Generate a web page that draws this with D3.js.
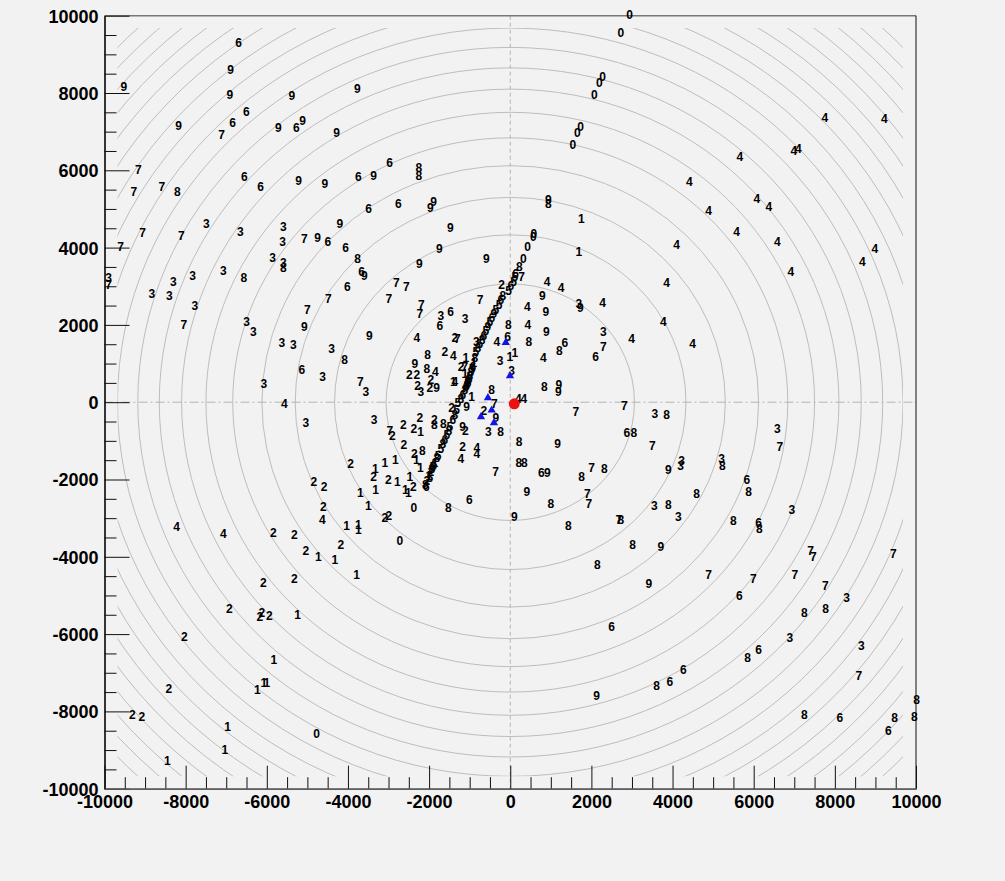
<!DOCTYPE html>
<html>
<head>
<meta charset="utf-8">
<script src="https://cdn.jsdelivr.net/npm/d3@7"></script>
<style>
  html, body { margin: 0; padding: 0; background: #f2f2f2; }
  svg { display: block; }
  .tick text { font-family: "Liberation Sans", Arial, sans-serif; font-weight: bold; }
</style>
</head>
<body>
<svg id="chart" width="1005" height="881"></svg>
<script>
// ---- axis ranges and ticks ----
const xDomain = [-10000, 10000];
const yDomain = [-10000, 10000];
const majorTicks = [-10000, -8000, -6000, -4000, -2000, 0, 2000, 4000, 6000, 8000, 10000];
const minorTicks = [-9500, -9000, -8500, -7500, -7000, -6500, -5500, -5000, -4500, -3500, -3000, -2500,
  -1500, -1000, -500, 500, 1000, 1500, 2500, 3000, 3500, 4500, 5000, 5500, 6500, 7000, 7500, 8500, 9000, 9500];

// ---- reference rings (radius of each contour) and the window they are drawn in ----
const ringRadii = [3060, 4330, 5300, 6120, 6840, 7500, 8100, 8650, 9180, 9680,
  10150, 10600, 11030, 11450, 11850, 12240, 12620, 12980, 13340, 13690];
const ringWindow = [-9680, 9680];

// ---- labelled hits, grouped by the digit printed at each one: [x, y] ----
const pts0 = [[2943,10031],[2728,9565],[2277,8435],[2193,8279],[2070,7961],[1735,7125],[1651,6970],[1545,6660],
  [584,4357],[567,4295],[429,4021],[320,3726],[-2373,-2732],[-2718,-3578],[-4771,-8572]];

const pts1 = [[1750,4745],[1693,3907],[-7,1190],[116,1278],[-1092,1144],[-1116,750],[-1400,523],[-951,155],
  [-2208,-758],[-2317,-1483],[-2213,-1684],[-3088,-1560],[-2834,-1475],[-3322,-1708],[-2780,-2065],[-2472,-1922],
  [-2588,-2251],[-2514,-2336],[-3317,-2259],[-3692,-2336],[-3500,-2680],[-4032,-3190],[-3746,-3164],[-3746,-3294],
  [-4732,-4000],[-4320,-4070],[-3786,-4458],[-5240,-5493],[-5824,-6657],[-6235,-7433],[-6070,-7260],[-5996,-7244],
  [-6965,-8383],[-7031,-8993],[-8454,-9263],
  [-2004,-1896],[-1856,-1560],[-895,1027]];

const pts2 = [[-212,3045],[-1363,1674],[-1609,1320],[-1210,916],[-2484,704],[-2300,704],[-2282,432],[-1954,587],
  [-1979,373],[-648,-207],[-2226,-396],[-1873,-448],[-1444,-145],[-2637,-577],[-2373,-675],[-2908,-875],
  [-1109,-732],[-2620,-1094],[-2361,-1327],[-1173,-1138],[-3934,-1591],[-3369,-1935],[-3007,-2000],[-2391,-2181],
  [-3088,-2991],[-2990,-2931],[-4173,-3682],[-4838,-2044],[-4591,-2173],[-4609,-2706],[-5841,-3379],[-5324,-3423],
  [-5035,-3829],[-6088,-4657],[-5324,-4569],[-6925,-5345],[-6169,-5537],[-6120,-5441],[-5940,-5519],[-8035,-6070],
  [-8412,-7407],[-9316,-8088],[-9077,-8140],
  [-2053,-2026],[-1954,-1793]];

const pts3 = [[-1708,2235],[-1112,2160],[-838,1558],[-249,1087],[35,828],[-3556,285],[-2201,285],[-3354,-440],
  [-542,-750],[2292,1837],[1690,2560],[3566,-292],[4224,-1501],[4200,-1630],[5210,-1464],[3549,-2673],[4141,-2950],
  [6580,-680],[6943,-2776],[8291,-5053],[6893,-6096],[8651,-6295],
  [-4402,1382],[-5627,1537],[-5348,1493],[-6497,2096],[-6334,1837],[-7771,2502],[-4624,657],[-6070,476],[-5035,-517],
  [-8831,2805],[-8404,2761],[-8306,3131],[-7828,3278],[-7073,3415],[-9898,3219],[-5856,3736],[-5595,3607],
  [-7492,4616],[-6654,4409],[-5595,4554],[-5609,4166]];

const pts4 = [[905,3123],[1250,2960],[424,2476],[436,1997],[-328,1578],[813,1149],[-1405,1201],[-1844,794],
  [-2304,1669],[-1363,523],[197,88],[338,88],[-1215,-1472],[-821,-1180],[-821,-1327],[-5570,-41],[-4633,-3035],
  [-8222,-3224],[-7073,-3397],
  [2277,2587],[2992,1640],[3771,2096],[3855,3089],[4495,1519],[4101,4080],[4412,5710],[4890,4968],[5580,4424],
  [5661,6349],[6080,5263],[6376,5056],[6580,4150],[6918,3374],[6992,6520],[7098,6556],[7756,7374],[9218,7332],
  [8675,3633],[8988,3969]];

const pts5 = [[116,3252],[-39,2877],[84,3131],[-1289,-16],[-1321,-189],[-1486,-634],
  [-1905,-1664],[-1708,-1198],[-1560,-836],[-845,1312],[-747,1519],[-599,1855],[-500,2088],[-352,2398],[-278,2528],
  [-1980,-1950],[-1780,-1380],[-1040,510],[-940,870]];

const pts6 = [[-6694,9299],[-6507,7521],[-6842,7244],[-5274,7100],[-6556,5832],[-6152,5589],[-4493,4166],
  [-2972,6194],[-3746,5847],[-3490,5012],[-2760,5149],[-4057,3995],[-3662,3389],[-4017,2986],[-1469,2334],
  [-1733,1977],[-64,1692],[1348,1537],[2105,1190],[-5134,846],[-1010,-2517],[133,3322],[2876,-792],[764,-1827],
  [5834,-2000],[6122,-3120],[5644,-5001],[2499,-5796],[3936,-7226],[4264,-6916],[6122,-6398],[8126,-8166],[9316,-8494],
  [-1609,-965],[-1412,-448],[-1166,199],[-1043,561],[-919,924],[-648,1726],[-451,2191],[-229,2657],[17,3019],
  [-2070,-2180],[-1880,-1610],[-1090,400]];

const pts7 = [[-7113,6918],[-9168,6021],[-9274,5459],[-8584,5573],[-9060,4398],[-8109,4313],[-9602,4036],
  [-9898,3045],[-5077,4228],[-8042,2010],[-5003,2398],[-4486,2675],[-2990,2683],[-2810,3105],[-2558,2981],
  [-2189,2528],[-2226,2287],[-742,2652],[281,3252],[-1306,1640],[-1116,911],[-3694,543],[-394,-41],[-2965,-732],
  [-360,-1785],[1619,-248],[2810,-85],[3500,-1113],[2006,-1697],[1898,-2362],[1940,-2621],[2679,-3035],[2292,1449],
  [6647,-1138],[7404,-3829],[7468,-4000],[9439,-3922],[4890,-4458],[5989,-4554],[7017,-4458],[7763,-4735],[8594,-7071]];

const pts8 = [[-8207,5459],[-6563,3219],[-5595,3477],[-2250,6065],[-2250,5865],[-3761,3710],[937,5141],[227,3519],
  [-49,2018],[461,1558],[1208,1345],[-4081,1097],[-2036,1234],[-2053,864],[838,414],[-458,329],[-1873,-577],
  [-1651,-543],[-237,-758],[219,-1009],[209,-1568],[350,-1568],[-2169,-1244],[-1528,-2732],[3855,-318],[3049,-792],
  [1760,-1930],[2317,-1723],[1003,-2621],[1429,-3190],[2728,-3048],[3017,-3682],[2144,-4199],[3899,-2660],
  [4594,-2362],[5225,-1638],[5876,-2303],[5496,-3061],[6137,-3276],[3608,-7322],[5851,-6613],[7246,-5433],
  [7773,-5338],[7246,-8080],[9474,-8150],[10016,-7692],[9957,-8124],
  [-2090,-2129],[-1807,-1431],[-1659,-1069],[-1511,-732],[-1363,-318],[-1215,96],[-1116,329],[-1067,458],
  [-993,691],[-969,794],[-796,1415],[-697,1622],[-180,2761],[-1930,-1720],[-1015,620],[-870,1150]];

const pts9 = [[-6891,8608],[-9521,8160],[-6908,7961],[-5380,7943],[-8173,7159],[-5718,7100],[-5117,7296],
  [-4279,6986],[-3771,8116],[-5215,5728],[-4567,5658],[-4747,4254],[-3367,5873],[-1888,5185],[-1972,5045],
  [937,5244],[-4197,4624],[-1474,4512],[-1745,3969],[-2243,3583],[-587,3710],[-3598,3278],[789,2748],[875,2354],
  [887,1824],[1730,2450],[-5077,1966],[-3475,1726],[-2349,1009],[-1814,373],[-352,-388],[-1075,-111],[-1173,-642],
  [1200,458],[1183,285],[1168,-1069],[912,-1827],[412,-2303],[99,-2950],[3894,-1741],[3714,-3726],[3418,-4691],
  [2129,-7581],[-550,1959],[-402,2295]];

// ---- special markers ----
const trianglePts = [[-111,1545],[-7,683],[-550,114],[-458,-207],[-722,-378],[-402,-533]];
const vertexPt = [99, -41];

// ---- drawing ----
const svg = d3.select("#chart");
const x = d3.scaleLinear().domain(xDomain).range([104.5, 916]);
const y = d3.scaleLinear().domain(yDomain).range([788.7, 15.7]);

svg.append("rect").attr("width", 1005).attr("height", 881).attr("fill", "#f2f2f2");

// rings, clipped to their drawing window
svg.append("clipPath").attr("id", "ringClip")
  .append("rect")
  .attr("x", x(ringWindow[0])).attr("y", y(ringWindow[1]))
  .attr("width", x(ringWindow[1]) - x(ringWindow[0]))
  .attr("height", y(ringWindow[0]) - y(ringWindow[1]));

svg.append("g").attr("clip-path", "url(#ringClip)")
  .selectAll("ellipse").data(ringRadii).join("ellipse")
  .attr("cx", x(0)).attr("cy", y(0))
  .attr("rx", r => x(r) - x(0))
  .attr("ry", r => y(0) - y(r))
  .attr("fill", "none").attr("stroke", "#bdbdbd").attr("stroke-width", 1);

// zero lines
svg.append("line")
  .attr("x1", x(0)).attr("x2", x(0)).attr("y1", y(yDomain[1])).attr("y2", y(yDomain[0]))
  .attr("stroke", "#b4b4b4").attr("stroke-width", 1).attr("stroke-dasharray", "4,3");
svg.append("line")
  .attr("x1", x(xDomain[0])).attr("x2", x(xDomain[1])).attr("y1", y(0)).attr("y2", y(0))
  .attr("stroke", "#b4b4b4").attr("stroke-width", 1).attr("stroke-dasharray", "9,3,2,3");

// frame top and right
svg.append("line").attr("x1", x(xDomain[0])).attr("x2", x(xDomain[1]))
  .attr("y1", y(yDomain[1])).attr("y2", y(yDomain[1]))
  .attr("stroke", "#777").attr("stroke-width", 1.5);
svg.append("line").attr("x1", x(xDomain[1])).attr("x2", x(xDomain[1]))
  .attr("y1", y(yDomain[1])).attr("y2", y(yDomain[0]))
  .attr("stroke", "#111").attr("stroke-width", 1);

// axes: major ticks with labels, minor ticks without
const fmt = d => String(d);
const yMajor = d3.axisLeft(y).tickValues(majorTicks).tickFormat(fmt).tickSize(-25).tickSizeOuter(0).tickPadding(6);
const yMinor = d3.axisLeft(y).tickValues(minorTicks).tickFormat("").tickSize(-12).tickSizeOuter(0);
const xMajor = d3.axisBottom(x).tickValues(majorTicks).tickFormat(fmt).tickSize(-23).tickSizeOuter(0).tickPadding(7);
const xMinor = d3.axisBottom(x).tickValues(minorTicks).tickFormat("").tickSize(-11.5).tickSizeOuter(0);

function styleAxis(g, color) {
  g.selectAll("path.domain").attr("stroke", color).attr("stroke-width", 1.2);
  g.selectAll(".tick line").attr("stroke", "#111").attr("stroke-width", 1);
  g.selectAll(".tick text").attr("fill", "#000").attr("font-size", 18);
}
const gy = svg.append("g").attr("transform", `translate(${x(xDomain[0])},0)`);
gy.append("g").call(yMinor).call(g => styleAxis(g, "#111"));
gy.append("g").call(yMajor).call(g => styleAxis(g, "#111"));
gy.selectAll(".tick text").attr("dy", "0.36em");

const gx = svg.append("g").attr("transform", `translate(0,${y(yDomain[0])})`);
gx.append("g").call(xMinor).call(g => styleAxis(g, "#555"));
gx.append("g").call(xMajor).call(g => styleAxis(g, "#555"));

// digit labels
const labelSeries = [["0", pts0], ["1", pts1], ["2", pts2], ["3", pts3], ["4", pts4],
  ["5", pts5], ["6", pts6], ["7", pts7], ["8", pts8], ["9", pts9]];
const labelRows = labelSeries.flatMap(([digit, pts]) => pts.map(p => ({ digit, x: p[0], y: p[1] })));

svg.append("g")
  .attr("font-family", "'Liberation Sans', Arial, sans-serif")
  .attr("font-weight", "bold").attr("font-size", 12).attr("fill", "#000")
  .selectAll("text").data(labelRows).join("text")
  .attr("x", d => x(d.x)).attr("y", d => y(d.y))
  .attr("text-anchor", "middle").attr("dy", "0.36em")
  .text(d => d.digit);

// blue triangles
svg.append("g").selectAll("path").data(trianglePts).join("path")
  .attr("transform", d => `translate(${x(d[0])},${y(d[1])})`)
  .attr("d", d3.symbol(d3.symbolTriangle, 30))
  .attr("fill", "#1414e6");

// red vertex marker
svg.append("circle")
  .attr("cx", x(vertexPt[0])).attr("cy", y(vertexPt[1])).attr("r", 5.5)
  .attr("fill", "#ee1111");
</script>
</body>
</html>
